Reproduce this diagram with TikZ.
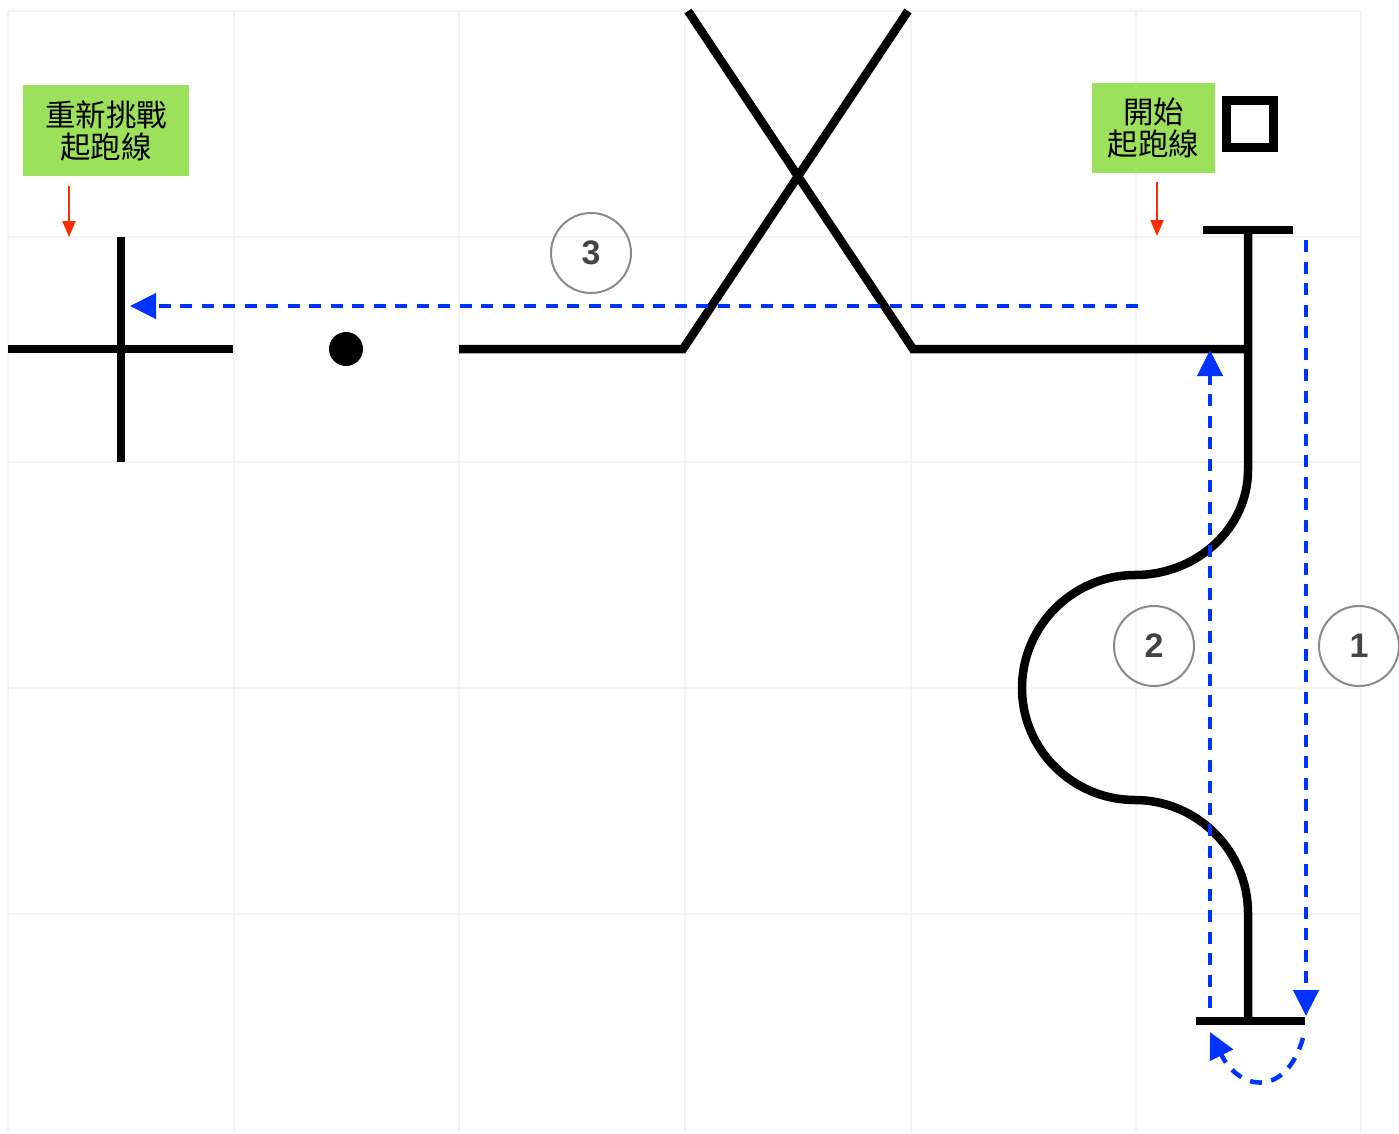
\documentclass[tikz,border=0pt]{standalone}
\usepackage{fontspec}
\setmainfont{Liberation Sans}
\newfontfamily\cjk{Noto Sans CJK TC}
\usetikzlibrary{arrows.meta}
\definecolor{gridc}{HTML}{F4F4F4}
\definecolor{labelgreen}{HTML}{9CE05B}
\definecolor{routeblue}{HTML}{0033FF}
\definecolor{markred}{HTML}{FF2A00}
\definecolor{ringgray}{HTML}{8A8A8A}
\definecolor{numgray}{HTML}{444444}
\tikzset{
  track/.style={line width=8.5pt, black, line join=miter},
  route/.style={line width=4.5pt, routeblue, dash pattern=on 12pt off 9.5pt,
    -{Triangle[width=25pt,length=26pt]}},
  pointer/.style={line width=2.2pt, markred, -{Triangle[width=13pt,length=16pt]}},
  tag/.style={fill=labelgreen, inner sep=0pt, align=center,
    font=\cjk\fontsize{30.5}{32}\selectfont},
  stepnum/.style={circle, draw=ringgray, line width=2pt, minimum size=80pt,
    inner sep=0pt, text=numgray, font=\bfseries\fontsize{34}{34}\selectfont}
}
\begin{document}
\begin{tikzpicture}[x=1pt,y=-1pt]
\useasboundingbox (0,0) rectangle (1399,1133);
% faint field grid
\foreach \gx in {8,233.5,459,685,911,1136,1361}
  \draw[gridc, line width=2pt] (\gx,11) -- (\gx,1133);
\foreach \gy in {11,237,462,688,914}
  \draw[gridc, line width=2pt] (8,\gy) -- (1361,\gy);

% left cross (restart line)
\draw[track] (8,349) -- (233,349);
\draw[track] (121,237) -- (121,462);
% dot
\fill (346,349) circle (17);
% straight segment into the crossing
\draw[track] (459,349) -- (683,349) -- (908,11);
\draw[track] (688,11) -- (913,349) -- (1248,349);
% start T and the winding section
\draw[track] (1203,230) -- (1293,230);
\draw[track] (1248,230) -- (1248,470)
  .. controls (1248,528) and (1197,575) .. (1135,575)
  .. controls (1073,575) and (1022,626) .. (1022,688)
  .. controls (1022,750) and (1073,800) .. (1135,800)
  .. controls (1197,800) and (1248,851) .. (1248,913)
  -- (1248,1021);
\draw[track] (1196,1021) -- (1305,1021);
% square marker
\draw[line width=9pt, black] (1226.5,100.5) rectangle (1273.5,147.5);

% labels
\node[tag, minimum width=166pt, minimum height=91pt] (restart) at (106,130.5)
  {重新挑戰\\起跑線};
\node[tag, minimum width=123pt, minimum height=90pt] (start) at (1153.5,128)
  {開始\\起跑線};
\coordinate (restartTip) at (69,237);
\coordinate (startTip) at (1157,236);
\draw[pointer] (69,186) -- (restartTip);
\draw[pointer] (1157,182) -- (startTip);

% route arrows
\coordinate (r1a) at (1306,240);
\coordinate (r1b) at (1306,1016);
\coordinate (r2a) at (1210,1008);
\coordinate (r2b) at (1210,350);
\coordinate (r3a) at (1138,306);
\coordinate (r3b) at (130,306);
\coordinate (rua) at (1303,1038);
\coordinate (rub) at (1210,1032);
\draw[route] (r1a) -- (r1b);
\draw[route] (r2a) -- (r2b);
\draw[route] (r3a) -- (r3b);
\draw[route] (rua) .. controls (1286,1097) and (1240,1092) .. (rub);

% step numbers
\node[stepnum] (s3) at (591,253) {3};
\node[stepnum] (s2) at (1154,646) {2};
\node[stepnum] (s1) at (1359,646) {1};
\end{tikzpicture}
\end{document}
